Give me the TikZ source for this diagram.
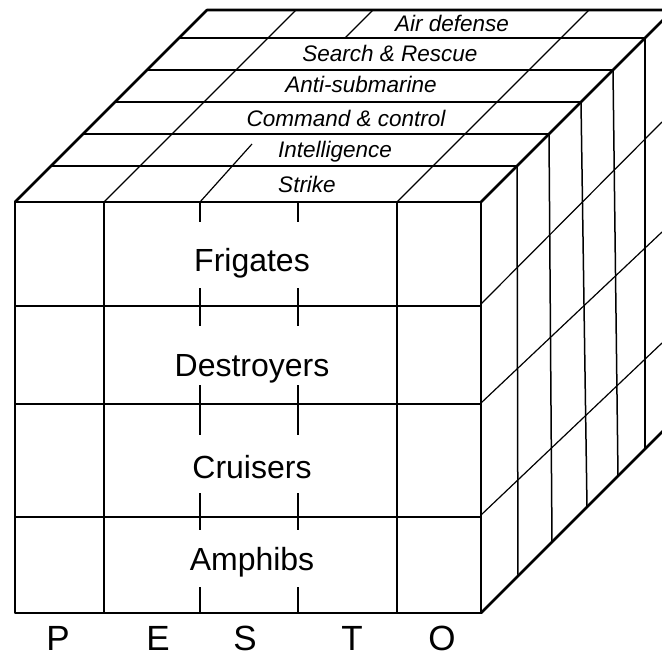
\documentclass[tikz,border=0pt]{standalone}
\usepackage{fontspec}
\setmainfont{Liberation Sans}
\begin{document}
\begin{tikzpicture}[x=1pt,y=-1pt,
  edge/.style={line width=2.6pt, line cap=round, line join=round},
  gridline/.style={line width=1.2pt},
  rgrid/.style={line width=1.5pt},
  shiplabel/.style={anchor=base, inner sep=0pt, font=\fontsize{32}{36}\selectfont},
  rolelabel/.style={inner sep=0pt, font=\fontsize{22.5}{26}\selectfont\itshape},
  pesto/.style={anchor=base, inner sep=0pt, text depth=0pt, font=\fontsize{35}{37}\selectfont}]
\useasboundingbox (0,0) rectangle (662,659);
\fill[white] (0,0) rectangle (662,659);
\clip (0,0) rectangle (662,659);

% top face band lines
\foreach \y in {38,70,102,134,166}
  \draw[gridline] ({217-\y},\y) -- ({683-\y},\y);
% top face depth lines
\draw[gridline] (104,202) -- (296,10);
\draw[gridline] (397,202) -- (589,10);
\draw[gridline] (200,202) -- (252,144);
\draw[gridline] (373,10) -- (345,38);

% right face vertical lines
\draw[rgrid] (645,38) -- (645,449);
\draw[rgrid] (613,70) -- (618,476);
\draw[rgrid] (581,102) -- (587,507);
\draw[rgrid] (549,134) -- (552,542);
\draw[rgrid] (517,166) -- (518,576);
% right face depth lines
\draw[gridline] (481,304) -- (662,122);
\draw[gridline] (481,403) -- (662,232);
\draw[gridline] (481,515) -- (662,343);

% front face grid
\foreach \y in {306,404,517}
  \draw[gridline] (15,\y) -- (481,\y);
\draw[gridline] (104,202) -- (104,613);
\draw[gridline] (397,202) -- (397,613);
\foreach \x in {200,298}{
  \draw[gridline] (\x,202) -- (\x,222);
  \draw[gridline] (\x,288) -- (\x,326);
  \draw[gridline] (\x,385) -- (\x,435);
  \draw[gridline] (\x,493) -- (\x,530);
  \draw[gridline] (\x,587) -- (\x,613);
}

% outline
\draw[edge] (15,202) rectangle (481,613);
\draw[edge] (15,202) -- (207,10) -- (680,10);
\draw[edge] (481,202) -- (673,10);
\draw[edge] (481,613) -- (673,421);

% labels
\node[shiplabel] (frig) at (252,271) {Frigates};
\node[shiplabel] (dest) at (252,376) {Destroyers};
\node[shiplabel] (crui) at (252,478) {Cruisers};
\node[shiplabel] (amph) at (252,570) {Amphibs};

\node[rolelabel] (air) at (452,23) {Air defense};
\node[rolelabel] (sar) at (390,53) {Search \& Rescue};
\node[rolelabel] (asw) at (361,84) {Anti-submarine};
\node[rolelabel] (cc) at (346,118) {Command \& control};
\node[rolelabel] (intel) at (335,152) {Intelligence};
\node[rolelabel] (strike) at (307,184) {Strike};

\node[pesto] (p) at (58,650) {P};
\node[pesto] (e) at (158,650) {E};
\node[pesto] (s) at (245,650) {S};
\node[pesto] (t) at (352,650) {T};
\node[pesto] (o) at (442,650) {O};
\end{tikzpicture}
\end{document}
